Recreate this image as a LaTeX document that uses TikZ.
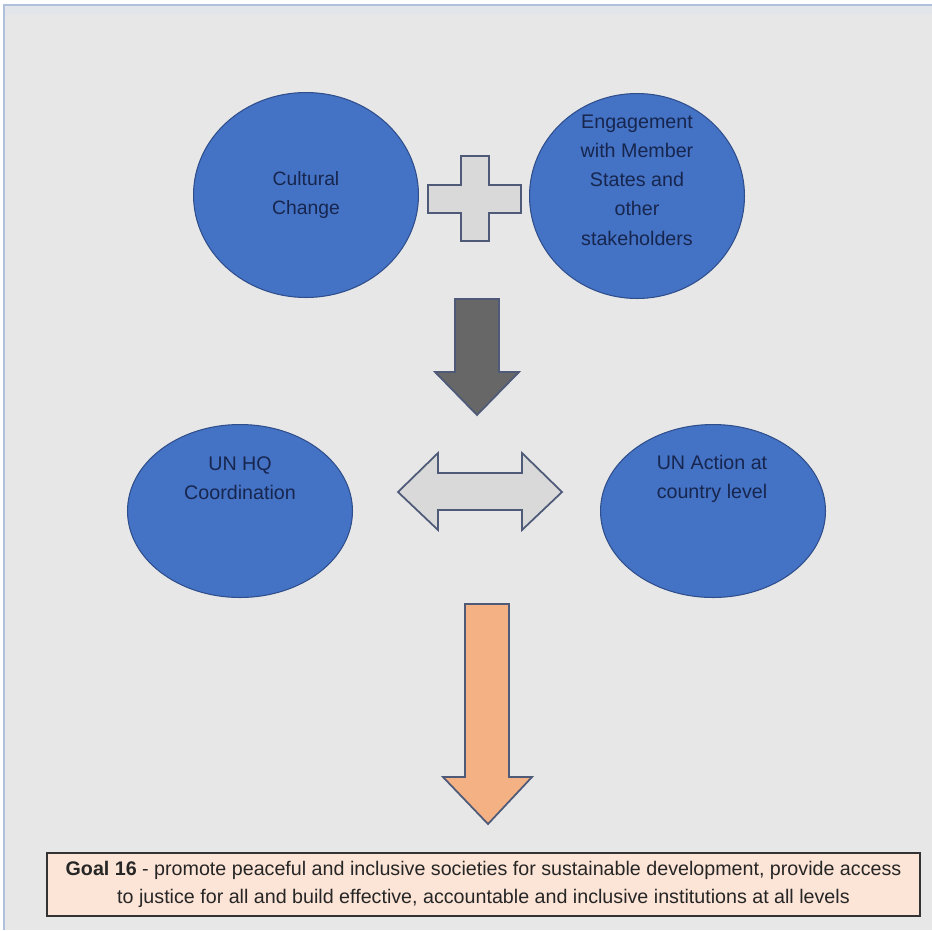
\documentclass[tikz,border=0pt]{standalone}
\usepackage{fontspec}
\setmainfont{Liberation Sans}
\usetikzlibrary{shapes.geometric}
\definecolor{bgrey}{HTML}{E7E7E7}
\definecolor{topstrip}{HTML}{E2E6EB}
\definecolor{frameline}{HTML}{AFC0DC}
\definecolor{blobfill}{HTML}{4472C4}
\definecolor{blobline}{HTML}{2F4E8C}
\definecolor{navy}{HTML}{17264F}
\definecolor{plusfill}{HTML}{D9D9D9}
\definecolor{arrowline}{HTML}{4E5A78}
\definecolor{darkfill}{HTML}{676767}
\definecolor{orangefill}{HTML}{F4B183}
\definecolor{goalfill}{HTML}{FCE4D6}
\begin{document}
\begin{tikzpicture}[x=0.02cm,y=-0.02cm,
    blob/.style={ellipse,draw=blobline,fill=blobfill,line width=0.6pt,inner sep=0pt,
        align=center,text=navy,font=\fontsize{11}{16.5}\selectfont},
    blobtext/.style={align=center,text=navy,font=\fontsize{11.2}{16.6}\selectfont},
    blockarrow/.style={draw=arrowline,line width=1pt,line join=miter}]
        \useasboundingbox (0,0) rectangle (932,930);
        %% background
        \fill[white] (0,0) rectangle (932,930);
        \fill[bgrey] (4,5) rectangle (932,930);
        \fill[topstrip] (4,5) rectangle (932,15);
        \draw[frameline,line width=1pt] (4,930) -- (4,5) -- (932,5);
        %% top row
        \node[blob,minimum width=4.5cm,minimum height=4.1cm] (culture) at (306,195) {Cultural\\Change};
        \node[blob,minimum width=4.3cm,minimum height=4.1cm] (engage) at (637,196) {};
        \node[blobtext] (engagetext) at (637,180)
            {Engagement\\with Member\\States and\\other\\stakeholders};
        %% plus
        \draw[blockarrow,fill=plusfill] (461,156) -- (489,156) -- (489,185) -- (521,185)
            -- (521,213) -- (489,213) -- (489,241) -- (461,241) -- (461,213)
            -- (428,213) -- (428,185) -- (461,185) -- cycle;
        %% dark arrow
        \draw[blockarrow,fill=darkfill] (455,299) -- (499,299) -- (499,372) -- (519,372)
            -- (477,415) -- (435,372) -- (455,372) -- cycle;
        %% middle row
        \node[blob,minimum width=4.5cm,minimum height=3.46cm] (hq) at (240,511) {};
        \node[blobtext] (hqtext) at (240,478) {UN HQ\\Coordination};
        \node[blob,minimum width=4.5cm,minimum height=3.46cm] (action) at (713,511) {};
        \node[blobtext] (actiontext) at (712,479) {UN Action at\\country level};
        %% double arrow
        \draw[blockarrow,fill=plusfill] (398,492) -- (438,453) -- (438,473) -- (522,473)
            -- (522,453) -- (562,492) -- (522,530) -- (522,510) -- (438,510)
            -- (438,530) -- cycle;
        %% orange arrow
        \draw[blockarrow,fill=orangefill] (465,604) -- (509,604) -- (509,777) -- (532,777)
            -- (488,824) -- (443,777) -- (465,777) -- cycle;
        %% goal
        \node[draw=black!80,fill=goalfill,line width=0.8pt,minimum width=17.46cm,minimum height=1.26cm,
            align=center,text=black!85,font=\fontsize{11.2}{16}\selectfont] (goal) at (483.5,884.5)
            {\textbf{Goal 16} - promote peaceful and inclusive societies for sustainable development, provide access\\
             to justice for all and build effective, accountable and inclusive institutions at all levels};
    \end{tikzpicture}
\end{document}
